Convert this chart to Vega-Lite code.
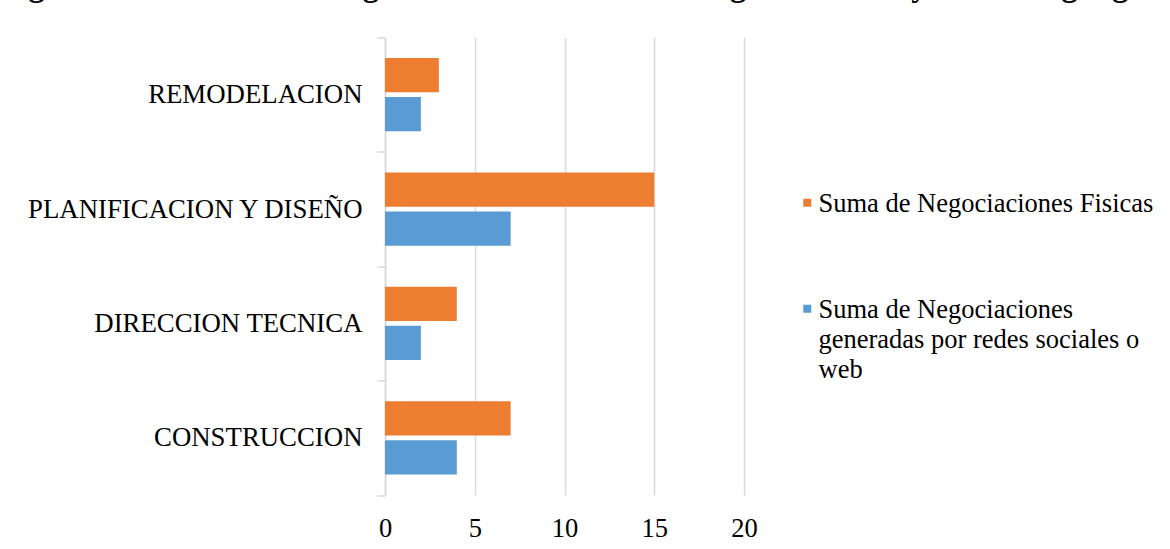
{
  "$schema": "https://vega.github.io/schema/vega-lite/v6.json",
  "autosize": {"type": "none"},
  "padding": {"left": 385, "top": 37.5, "right": 426, "bottom": 54},
  "width": 359,
  "height": 457.5,
  "background": "white",
  "title": {
    "text": "Figura 3.2: Suma de las negociaciones entre marketing tradicional y marketing digital",
    "anchor": "start",
    "frame": "group",
    "baseline": "alphabetic",
    "offset": 0,
    "dy": 3.5,
    "dx": -385,
    "font": "Liberation Serif",
    "fontSize": 32,
    "fontWeight": "bold",
    "color": "#000000"
  },
  "data": {
    "values": [
      {"categoria": "REMODELACION", "serie": "Suma de Negociaciones Fisicas", "valor": 3},
      {"categoria": "REMODELACION", "serie": "Suma de Negociaciones generadas por redes sociales o web", "valor": 2},
      {"categoria": "PLANIFICACION Y DISEÑO", "serie": "Suma de Negociaciones Fisicas", "valor": 15},
      {"categoria": "PLANIFICACION Y DISEÑO", "serie": "Suma de Negociaciones generadas por redes sociales o web", "valor": 7},
      {"categoria": "DIRECCION TECNICA", "serie": "Suma de Negociaciones Fisicas", "valor": 4},
      {"categoria": "DIRECCION TECNICA", "serie": "Suma de Negociaciones generadas por redes sociales o web", "valor": 2},
      {"categoria": "CONSTRUCCION", "serie": "Suma de Negociaciones Fisicas", "valor": 7},
      {"categoria": "CONSTRUCCION", "serie": "Suma de Negociaciones generadas por redes sociales o web", "valor": 4}
    ]
  },
  "mark": {"type": "bar", "cornerRadius": 0},
  "encoding": {
    "y": {
      "field": "categoria",
      "type": "nominal",
      "sort": ["REMODELACION", "PLANIFICACION Y DISEÑO", "DIRECCION TECNICA", "CONSTRUCCION"],
      "scale": {"paddingInner": 0, "paddingOuter": 0},
      "axis": {
        "title": null,
        "tickBand": "extent",
        "ticks": true,
        "tickSize": 8,
        "tickColor": "#d9d9d9",
        "tickWidth": 1.5,
        "domainColor": "#d9d9d9",
        "domainWidth": 1.5,
        "grid": false,
        "labelFont": "Liberation Serif",
        "labelFontSize": 26.8,
        "labelColor": "#000000",
        "labelPadding": 15,
        "labelLimit": 600
      }
    },
    "yOffset": {
      "field": "serie",
      "type": "nominal",
      "sort": ["Suma de Negociaciones Fisicas", "Suma de Negociaciones generadas por redes sociales o web"],
      "scale": {"paddingInner": 0.12, "paddingOuter": 0.53}
    },
    "x": {
      "field": "valor",
      "type": "quantitative",
      "scale": {"domain": [0, 20], "nice": false},
      "axis": {
        "title": null,
        "values": [0, 5, 10, 15, 20],
        "domain": false,
        "ticks": false,
        "grid": true,
        "gridColor": "#d9d9d9",
        "gridWidth": 1.5,
        "labelFlush": false,
        "labelFont": "Liberation Serif",
        "labelFontSize": 26.5,
        "labelColor": "#000000",
        "labelPadding": 20
      }
    },
    "color": {
      "field": "serie",
      "type": "nominal",
      "sort": ["Suma de Negociaciones Fisicas", "Suma de Negociaciones generadas por redes sociales o web"],
      "scale": {"range": ["#ED7D31", "#5B9BD5"]},
      "legend": {
        "title": null,
        "orient": "none",
        "legendX": 409,
        "legendY": 152,
        "padding": 0,
        "symbolType": "square",
        "symbolSize": 64,
        "symbolStrokeWidth": 0,
        "labelFont": "Liberation Serif",
        "labelFontSize": 26.5,
        "labelColor": "#000000",
        "labelLimit": 600,
        "labelOffset": -2,
        "labelBaseline": "alphabetic",
        "rowPadding": 78,
        "labelExpr": "datum.label == 'Suma de Negociaciones Fisicas' ? datum.label : ['Suma de Negociaciones', 'generadas por redes sociales o', 'web']",
        "encode": {
          "labels": {"update": {"dy": {"value": 9}, "lineHeight": {"value": 30}}}
        }
      }
    }
  },
  "config": {
    "view": {"stroke": null},
    "axis": {"gridOpacity": 1}
  }
}
